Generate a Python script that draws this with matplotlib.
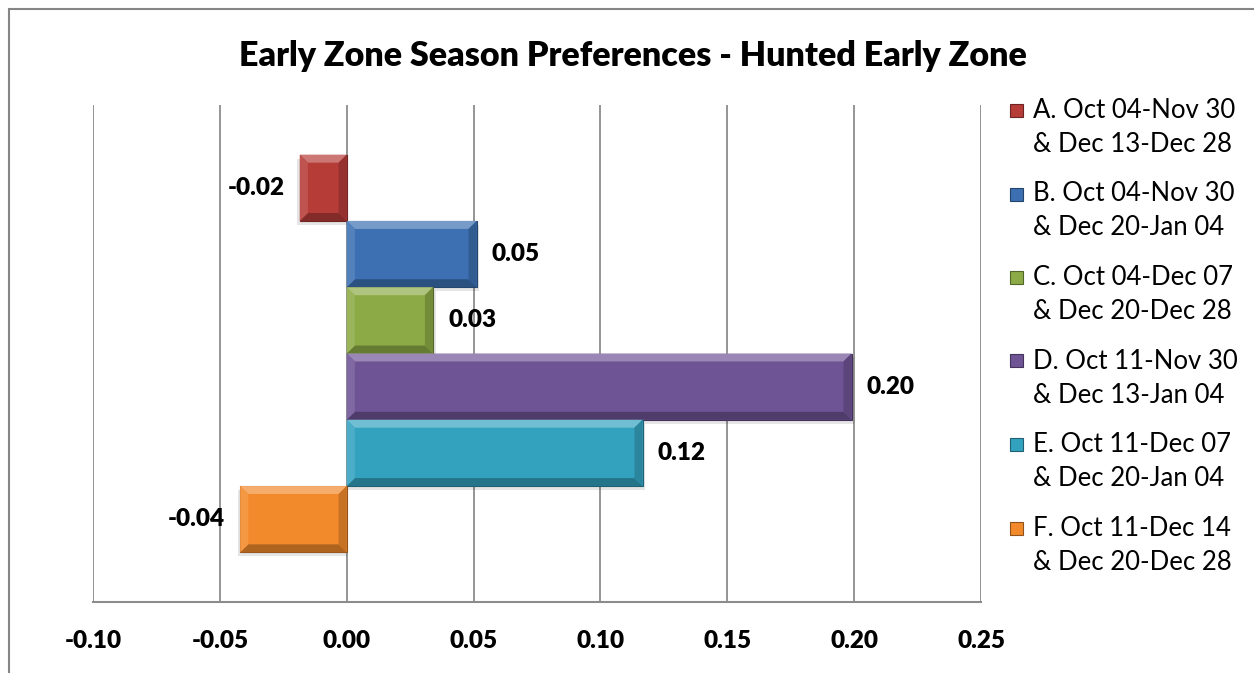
import matplotlib
matplotlib.use("Agg")
import matplotlib.pyplot as plt
from matplotlib.patches import Polygon, Rectangle
import matplotlib.colors as mcolors
import numpy as np

# %% Datos
codes = ["A", "B", "C", "D", "E", "F"]
labels = ["A. Oct 04-Nov 30\n& Dec 13-Dec 28",
          "B. Oct 04-Nov 30\n& Dec 20-Jan 04",
          "C. Oct 04-Dec 07\n& Dec 20-Dec 28",
          "D. Oct 11-Nov 30\n& Dec 13-Jan 04",
          "E. Oct 11-Dec 07\n& Dec 20-Jan 04",
          "F. Oct 11-Dec 14\n& Dec 20-Dec 28"]
values = [-0.0185, 0.0512, 0.034, 0.199, 0.1166, -0.042]
colors = ["#B63C38", "#3C70B2", "#8CAB46", "#6F5495", "#33A2BF", "#F28A2B"]
xticks = [-0.10, -0.05, 0.00, 0.05, 0.10, 0.15, 0.20, 0.25]

plt.rcParams['font.family'] = ['Lato', 'DejaVu Sans']


def mix(c, other, t):
    c = np.array(mcolors.to_rgb(c))
    o = np.array(mcolors.to_rgb(other))
    return tuple(c * (1 - t) + o * t)


def bevel(ax, yc, v, h, col, dx=0.0032, dy=0.12):
    x0, x1 = min(0, v), max(0, v)
    yt, yb = yc - h / 2, yc + h / 2   # eje invertido: yt queda arriba
    top = [(x0, yt), (x1, yt), (x1 - dx, yt + dy), (x0 + dx, yt + dy)]
    bot = [(x0, yb), (x1, yb), (x1 - dx, yb - dy), (x0 + dx, yb - dy)]
    lef = [(x0, yt), (x0 + dx, yt + dy), (x0 + dx, yb - dy), (x0, yb)]
    rig = [(x1, yt), (x1 - dx, yt + dy), (x1 - dx, yb - dy), (x1, yb)]
    ax.add_patch(Polygon(top, closed=True, fc=mix(col, "white", 0.3), ec="none", zorder=4))
    ax.add_patch(Polygon(bot, closed=True, fc=mix(col, "black", 0.28), ec="none", zorder=4))
    ax.add_patch(Polygon(lef, closed=True, fc=mix(col, "white", 0.12), ec="none", zorder=4))
    ax.add_patch(Polygon(rig, closed=True, fc=mix(col, "black", 0.18), ec="none", zorder=4))


# %% Grafica
fig = plt.figure(figsize=(12.54, 6.73), dpi=100, facecolor='white')
ax = fig.add_axes([93 / 1254, 1 - 602 / 673, (981 - 93) / 1254, (602 - 105) / 673])

ypos = np.arange(len(values))
bh = 1.0
# sombra
ax.barh(ypos + 0.06, [v + (0.001 if v > 0 else -0.001) for v in values], height=bh,
        color="#000000", alpha=0.10, zorder=2)
bars = ax.barh(ypos, values, height=bh, color=colors, edgecolor=[mix(c, "black", 0.4) for c in colors],
               linewidth=0.8, zorder=3)
for y, v, c in zip(ypos, values, colors):
    bevel(ax, y, v, bh, c)

for y, v in zip(ypos, values):
    off = 11 if v > 0 else -11
    ax.annotate("%.2f" % v, (v, y), xytext=(off, 0), textcoords="offset points",
                ha="left" if v > 0 else "right", va="center",
                fontsize=17.5, fontweight="heavy", zorder=5)

ax.set_xlim(-0.10, 0.25)
ax.set_ylim(5.5 + 0.75, -0.5 - 0.75)
ax.set_xticks(xticks)
ax.set_xticklabels(["%.2f" % t for t in xticks], fontsize=17.5, fontweight="heavy")
ax.set_yticks([])
ax.tick_params(axis="x", length=0, pad=20)
ax.grid(axis="x", color="#8C8C8C", linewidth=1.3, zorder=0)
ax.set_axisbelow(True)
for s in ["top", "right", "left"]:
    ax.spines[s].set_visible(False)
ax.spines["bottom"].set_color("#8C8C8C")
ax.spines["bottom"].set_linewidth(1.5)

fig.text(633 / 1254, 1 - 56 / 673, "Early Zone Season Preferences - Hunted Early Zone",
         ha="center", va="center", fontsize=24.5, fontweight="heavy")

# leyenda manual
for i, (lab, c) in enumerate(zip(labels, colors)):
    yl = 110 + i * 83.5
    fig.patches.append(Rectangle((1010 / 1254, 1 - (yl + 7) / 673), 13 / 1254, 13 / 673,
                                 transform=fig.transFigure, facecolor=c,
                                 edgecolor=mix(c, "black", 0.4), linewidth=0.8))
    fig.text(1033 / 1254, 1 - (yl - 12) / 673, lab, ha="left", va="top",
             fontsize=18.5, linespacing=1.45)

# marco del grafico
fig.patches.append(Rectangle((9 / 1254, -0.1), 1.2, 1.1 - 9 / 673, transform=fig.transFigure,
                             fill=False, edgecolor="#868686", linewidth=1.5))

fig.savefig("out.png", dpi=100, facecolor="white")
